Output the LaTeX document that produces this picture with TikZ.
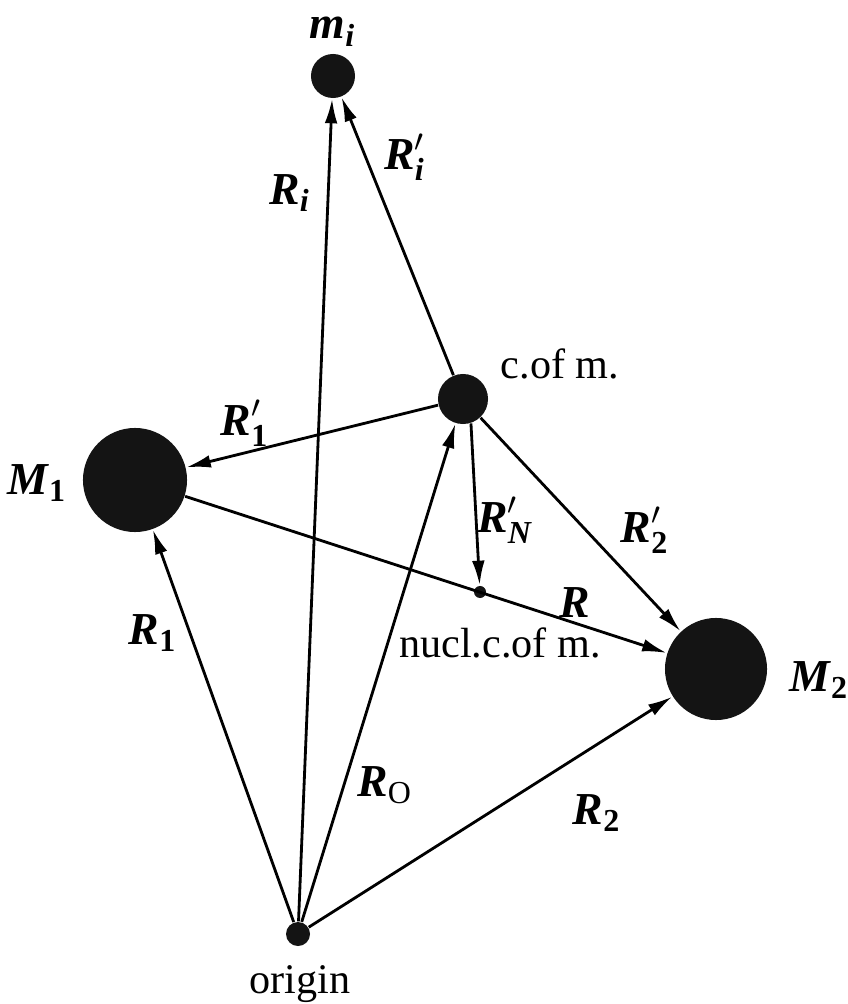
\documentclass[tikz,border=0pt]{standalone}
\usepackage{amsmath}
\usepackage{fontspec}
\setmainfont{Liberation Serif}
\usetikzlibrary{arrows.meta}
\newcommand{\bR}{\textbf{\textit{R}}}
\newcommand{\bsub}[1]{\text{\bfseries #1}}
\newcommand{\bisub}[1]{\text{\bfseries\itshape #1}}

\begin{document}
\begin{tikzpicture}[x=0.01cm, y=-0.01cm,
    mass/.style={circle, fill=black!92, inner sep=0pt},
    vec/.style={-{Latex[length=7pt,width=3.6pt]}, line width=0.8pt},
    lbl/.style={font=\fontsize{13}{15}\selectfont},
    txt/.style={font=\fontsize{12}{14}\selectfont}]
  \useasboundingbox (0,0) rectangle (847,1004);

  %% --- masses and points ---
  \node[mass, minimum size=0.44cm] (mi) at (333, 76)  {};
  \node[mass, minimum size=0.50cm] (cm) at (463, 399) {};
  \node[mass, minimum size=1.04cm] (M1) at (135, 480) {};
  \node[mass, minimum size=1.02cm] (M2) at (716, 669) {};
  \node[mass, minimum size=0.12cm] (nu) at (480, 592) {};
  \node[mass, minimum size=0.24cm] (og) at (298, 934) {};

  %% --- names of the points ---
  \node[lbl] (lmi) at (333, 32)  {$\textbf{\textit{m}}_{\bisub{i}}$};
  \node[txt] (lcm) at (560, 364) {c.of m.};
  \node[lbl] (lM1) at (37, 483)  {$\textbf{\textit{M}}_{\bsub{1}}$};
  \node[lbl] (lM2) at (819, 680) {$\textbf{\textit{M}}_{\bsub{2}}$};
  \node[txt] (lnu) at (500, 643) {nucl.c.of m.};
  \node[txt] (log) at (300, 984) {origin};

  %% --- vectors ---
  \draw[vec] (og) -- (mi);
  \draw[vec] (cm) -- (mi);
  \draw[vec] (cm) -- (M1);
  \draw[vec] (M1) -- (M2);
  \draw[vec] (cm.-72) -- (nu);
  \draw[vec] (cm) -- (M2);
  \draw[vec] (og) -- (M1);
  \draw[vec] (og) -- (cm);
  \draw[vec] (og) -- (M2);

  %% --- vector labels ---
  \node[lbl] (lRi)  at (290, 193) {$\bR_{\bisub{i}}$};
  \node[lbl] (lRpi) at (405, 157) {$\bR'_{\bisub{i}}$};
  \node[lbl] (lRp1) at (245, 423) {$\bR'_{\bsub{1}}$};
  \node[lbl] (lRpN) at (505, 520) {$\bR'_{\bisub{N}}$};
  \node[lbl] (lRp2) at (645, 530) {$\bR'_{\bsub{2}}$};
  \node[lbl] (lR)   at (575, 603) {$\bR$};
  \node[lbl] (lR1)  at (153, 633) {$\bR_{\bsub{1}}$};
  \node[lbl] (lRO)  at (385, 785) {$\bR_{\text{O}}$};
  \node[lbl] (lR2)  at (597, 813) {$\bR_{\bsub{2}}$};
\end{tikzpicture}
\end{document}
